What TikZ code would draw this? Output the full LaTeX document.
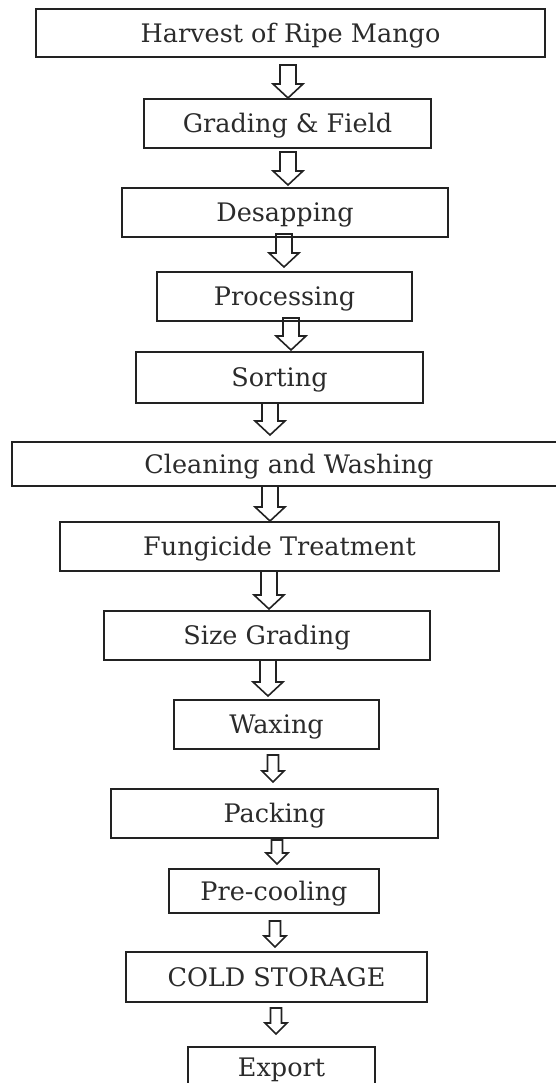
\documentclass[tikz,border=0pt]{standalone}
\usepackage{fontspec}
\setmainfont{DejaVu Serif}
\usetikzlibrary{calc}
\definecolor{ink}{HTML}{222222}
\definecolor{txt}{HTML}{2B2B2B}
\tikzset{
  x=1pt, y=-1pt,
  stepbox/.style={draw=ink, line width=1.6pt, rectangle, inner sep=0pt, outer sep=0pt,
    text=txt, font=\fontsize{25.5}{30}\selectfont, text height=18.6pt, text depth=0pt},
  blockarrow/.style={draw=ink, line width=1.6pt, line join=miter},
}
% name, left, right, top, bottom, text
\newcommand\mkbox[6]{%
  \node[stepbox, minimum width={(#3-#2)*1pt}, minimum height={(#5-#4)*1pt}]
    (#1) at ({(#2+#3)/2},{(#4+#5)/2}) {#6};}
% from, to, x, topgap, tipgap, shaft half, head half, head length
\newcommand\flowarrow[8]{%
  \draw[blockarrow] let \p1=(#1.south), \p2=(#2.north) in
    (#3pt-#6pt, \y1-#4pt) -- (#3pt+#6pt, \y1-#4pt) -- (#3pt+#6pt, \y2+#5pt+#8pt)
    -- (#3pt+#7pt, \y2+#5pt+#8pt) -- (#3pt, \y2+#5pt) -- (#3pt-#7pt, \y2+#5pt+#8pt)
    -- (#3pt-#6pt, \y2+#5pt+#8pt) -- cycle;}
\newcommand\bigarrow[5]{\flowarrow{#1}{#2}{#3}{#4}{#5}{8}{15}{14}}
\newcommand\smallarrow[5]{\flowarrow{#1}{#2}{#3}{#4}{#5}{5.5}{11}{11}}
\begin{document}
\begin{tikzpicture}
  \useasboundingbox (0,0) rectangle (556,1083);
  \mkbox{b1}{36}{545}{9}{57}{Harvest of Ripe Mango}
  \mkbox{b2}{144}{431}{99}{148}{Grading \& Field}
  \mkbox{b3}{122}{448}{188}{237}{Desapping}
  \mkbox{b4}{157}{412}{272}{321}{Processing}
  \mkbox{b5}{136}{423}{352}{403}{Sorting}
  \mkbox{b6}{12}{566}{442}{486}{Cleaning and Washing}
  \mkbox{b7}{60}{499}{522}{571}{Fungicide Treatment}
  \mkbox{b8}{104}{430}{611}{660}{Size Grading}
  \mkbox{b9}{174}{379}{700}{749}{Waxing}
  \mkbox{b10}{111}{438}{789}{838}{Packing}
  \mkbox{b11}{169}{379}{869}{913}{Pre-cooling}
  \mkbox{b12}{126}{427}{952}{1002}{COLD STORAGE}
  \mkbox{b13}{188}{375}{1047}{1087}{Export}
  \bigarrow{b1}{b2}{288}{8}{1}
  \bigarrow{b2}{b3}{288}{4}{3}
  \bigarrow{b3}{b4}{284}{-3}{5}
  \bigarrow{b4}{b5}{291}{-3}{2}
  \bigarrow{b5}{b6}{270}{0}{7}
  \bigarrow{b6}{b7}{270}{0}{1}
  \bigarrow{b7}{b8}{269}{0}{2}
  \bigarrow{b8}{b9}{268}{0}{4}
  \smallarrow{b9}{b10}{273}{6}{7}
  \smallarrow{b10}{b11}{277}{2}{5}
  \smallarrow{b11}{b12}{275}{8}{5}
  \smallarrow{b12}{b13}{276}{6}{13}
\end{tikzpicture}
\end{document}
